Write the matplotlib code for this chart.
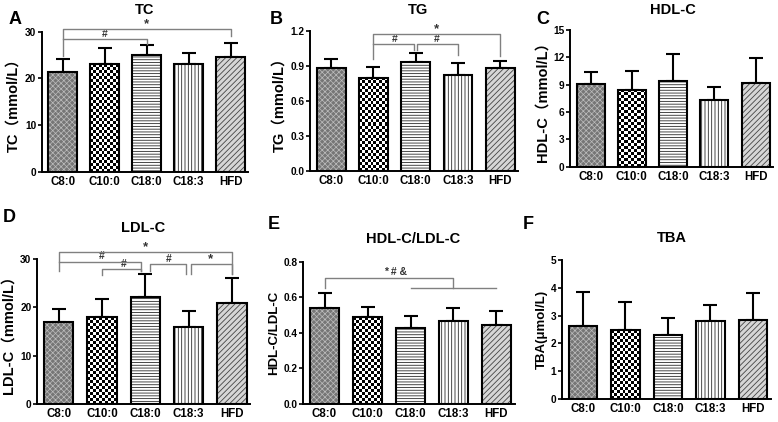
import matplotlib
matplotlib.use('Agg')
import matplotlib.pyplot as plt
import matplotlib.font_manager as fm
import numpy as np

fm.fontManager.ttflist = [f for f in fm.fontManager.ttflist if 'Narrow' not in f.fname]
fm.fontManager._findfont_cached.cache_clear()

plt.rcParams['font.family'] = ['Liberation Sans', 'Noto Sans CJK SC', 'DejaVu Sans']
plt.rcParams['font.weight'] = 'bold'
plt.rcParams['axes.labelweight'] = 'bold'

groups = ['C8:0', 'C10:0', 'C18:0', 'C18:3', 'HFD']

tc_mean = [21.4, 23.1, 25.1, 23.0, 24.6]
tc_sd = [2.7, 3.5, 2.1, 2.5, 2.9]
tg_mean = [0.88, 0.80, 0.93, 0.82, 0.88]
tg_sd = [0.08, 0.09, 0.08, 0.11, 0.06]
hdl_mean = [9.08, 8.46, 9.38, 7.33, 9.19]
hdl_sd = [1.3, 2.05, 2.96, 1.46, 2.79]
ldl_mean = [17.0, 17.9, 22.1, 15.9, 21.0]
ldl_sd = [2.6, 3.9, 4.7, 3.3, 5.1]
ratio_mean = [0.537, 0.486, 0.424, 0.466, 0.443]
ratio_sd = [0.088, 0.060, 0.070, 0.071, 0.081]
tba_mean = [2.63, 2.48, 2.30, 2.79, 2.84]
tba_sd = [1.21, 1.02, 0.62, 0.59, 0.97]

# significance brackets: (x1, x2, y, leg1_bottom, leg2_bottom)
tc_brackets = [(0, 4, 30.6, 24.8, 29.1), (0, 2, 28.4, 28.4, 27.4)]
tc_marks = [(2, 30.4, '*'), (1, 28.5, '#')]
tg_brackets = [(1, 4, 1.171, 0.957, 0.986), (1, 1.96, 1.086, 1.086, 1.037),
               (2.04, 3, 1.086, 1.037, 0.994)]
tg_marks = [(2.5, 1.165, '*'), (1.5, 1.09, '#'), (2.5, 1.09, '#')]
ldl_brackets = [(0, 4, 31.5, 27.5, 26.8), (0, 1.9, 29.4, 29.4, 27.5),
                (1, 1.9, 27.9, 26.7, 27.5), (2.1, 2.95, 28.9, 27.5, 27.0),
                (3.05, 4, 28.9, 27.0, 26.8)]
ldl_marks = [(2, 31.3, '*'), (1.0, 29.5, '#'), (1.5, 28.0, '#'), (2.55, 29.0, '#'), (3.5, 28.7, '*')]
ratio_brackets = [(0, 3, 0.706, 0.65, 0.65), (2, 4, 0.65, 0.65, 0.65)]
ratio_marks = [(1.65, 0.712, '* # &')]

W, H = 778, 422
fig = plt.figure(figsize=(W / 100, H / 100), dpi=100)

patterns = [
    dict(face='#767676', hatch='xxxxxx', hc='#bdbdbd', hlw=0.5),
    None,  # checkerboard
    dict(face='white', hatch='------', hc='#2a2a2a', hlw=0.6),
    dict(face='white', hatch='|||||', hc='#2a2a2a', hlw=0.6),
    dict(face='#d6d6d6', hatch='//////', hc='#444444', hlw=0.6),
]

panels = [
    dict(rect=(41.7, 31.7, 171.7, 42.0), mean=tc_mean, sd=tc_sd, ylim=30, ticks=[0, 10, 20, 30], fmt='{:.0f}',
         title='TC', tpos=(145, 10), letter='A', lpos=(15, 19), ylabel='TC（mmol/L）', ylx=13,
         br=tc_brackets, marks=tc_marks),
    dict(rect=(310, 31, 171, 42.3), mean=tg_mean, sd=tg_sd, ylim=1.2, ticks=[0, 0.3, 0.6, 0.9, 1.2], fmt='{:.1f}',
         title='TG', tpos=(418, 10), letter='B', lpos=(276, 19), ylabel='TG（mmol/L）', ylx=279,
         br=tg_brackets, marks=tg_marks),
    dict(rect=(570, 30, 166.7, 41.25), mean=hdl_mean, sd=hdl_sd, ylim=15, ticks=[0, 3, 6, 9, 12, 15], fmt='{:.0f}',
         title='HDL-C', tpos=(673, 10), letter='C', lpos=(543, 19), ylabel='HDL-C（mmol/L）', ylx=543,
         br=[], marks=[]),
    dict(rect=(37, 259, 404, 43.3), mean=ldl_mean, sd=ldl_sd, ylim=30, ticks=[0, 10, 20, 30], fmt='{:.0f}',
         title='LDL-C', tpos=(143, 228), letter='D', lpos=(9, 217), ylabel='LDL-C（mmol/L）', ylx=9,
         br=ldl_brackets, marks=ldl_marks),
    dict(rect=(303, 261.7, 403.7, 43.0), mean=ratio_mean, sd=ratio_sd, ylim=0.8, ticks=[0, 0.2, 0.4, 0.6, 0.8], fmt='{:.1f}',
         title='HDL-C/LDL-C', tpos=(413, 239), letter='E', lpos=(274, 224), ylabel='HDL-C/LDL-C', ylx=274,
         br=ratio_brackets, marks=ratio_marks),
    dict(rect=(561.7, 260, 399, 42.5), mean=tba_mean, sd=tba_sd, ylim=5, ticks=[0, 1, 2, 3, 4, 5], fmt='{:.0f}',
         title='TBA', tpos=(672, 238), letter='F', lpos=(528, 224), ylabel='TBA(μmol/L)', ylx=542,
         br=[], marks=[]),
]

XL, XR = -0.5, 4.42
x = np.arange(len(groups))
bw = 0.68
CELL = 3.0  # checker cell size, px


def checker_fill(ax, patch):
    x0, y0 = patch.get_x(), patch.get_y()
    w, h = patch.get_width(), patch.get_height()
    (px0, py0), (px1, py1) = ax.transData.transform([(x0, y0), (x0 + w, y0 + h)])
    nx = max(1, int(round((px1 - px0) / CELL)))
    ny = max(1, int(round((py1 - py0) / CELL)))
    arr = np.add.outer(np.arange(ny), np.arange(nx)) % 2
    im = ax.imshow(arr, extent=(x0, x0 + w, y0, y0 + h), cmap='gray', vmin=0, vmax=1,
                   interpolation='nearest', aspect='auto', origin='lower', zorder=2)
    im.set_clip_path(patch)


for p in panels:
    left, top, bottom, unit = p['rect']
    width = (XR - XL) * unit
    ax = fig.add_axes([left / W, 1 - bottom / H, width / W, (bottom - top) / H])
    ax.set_xlim(XL, XR)
    ax.set_ylim(0, p['ylim'])
    for i, pat in enumerate(patterns):
        if pat is None:
            b = ax.bar(x[i], p['mean'][i], bw, color='white', linewidth=0, zorder=2)
            checker_fill(ax, b[0])
            continue
        with plt.rc_context({'hatch.linewidth': pat['hlw']}):
            b = ax.bar(x[i], p['mean'][i], bw, color=pat['face'], edgecolor=pat['hc'],
                       hatch=pat['hatch'], linewidth=0, zorder=2)
            for patch in b:
                if hasattr(patch, 'set_hatch_linewidth'):
                    patch.set_hatch_linewidth(pat['hlw'])
    ax.set_xlim(XL, XR)
    ax.set_ylim(0, p['ylim'])
    ax.set_aspect('auto')
    ax.bar(x, p['mean'], bw, fill=False, edgecolor='black', linewidth=1.5, zorder=3)
    ax.errorbar(x, p['mean'], yerr=[np.zeros(len(x)), p['sd']], fmt='none', ecolor='black',
                elinewidth=1.5, capsize=5, capthick=1.5, zorder=1)
    for s in ['top', 'right']:
        ax.spines[s].set_visible(False)
    for s in ['left', 'bottom']:
        ax.spines[s].set_linewidth(1.4)
    ax.set_xticks(x)
    ax.set_xticklabels(groups, fontsize=8.3, fontweight='bold')
    ax.tick_params(axis='x', length=0, pad=3)
    ax.set_yticks(p['ticks'])
    ax.set_yticklabels([p['fmt'].format(t) for t in p['ticks']], fontsize=7.3, fontweight='bold')
    ax.tick_params(axis='y', length=3, width=1.2, pad=1)
    fs_lab = 10.5 if '（' in p['ylabel'] else 9.5
    ax.set_ylabel(p['ylabel'], fontsize=fs_lab, fontweight='bold', va='center')
    ax.yaxis.set_label_coords((p['ylx'] - left) / width, 0.5)
    for (x1, x2, y, l1, l2) in p['br']:
        ax.plot([x1, x1, x2, x2], [l1, y, y, l2], color='#808080', lw=1.0, clip_on=False, zorder=4)
    for (mx, my, s) in p['marks']:
        fs = 9.5 if s == '*' else 7.5
        ax.text(mx, my, s, ha='center', va='bottom', fontsize=fs, fontweight='bold', color='#333333',
                clip_on=False)
    fig.text(p['tpos'][0] / W, 1 - p['tpos'][1] / H, p['title'], ha='center', va='center',
             fontsize=10.5, fontweight='bold')
    fig.text(p['lpos'][0] / W, 1 - p['lpos'][1] / H, p['letter'], ha='center', va='center',
             fontsize=13, fontweight='bold')

fig.savefig('out.png', dpi=100, facecolor='white')
